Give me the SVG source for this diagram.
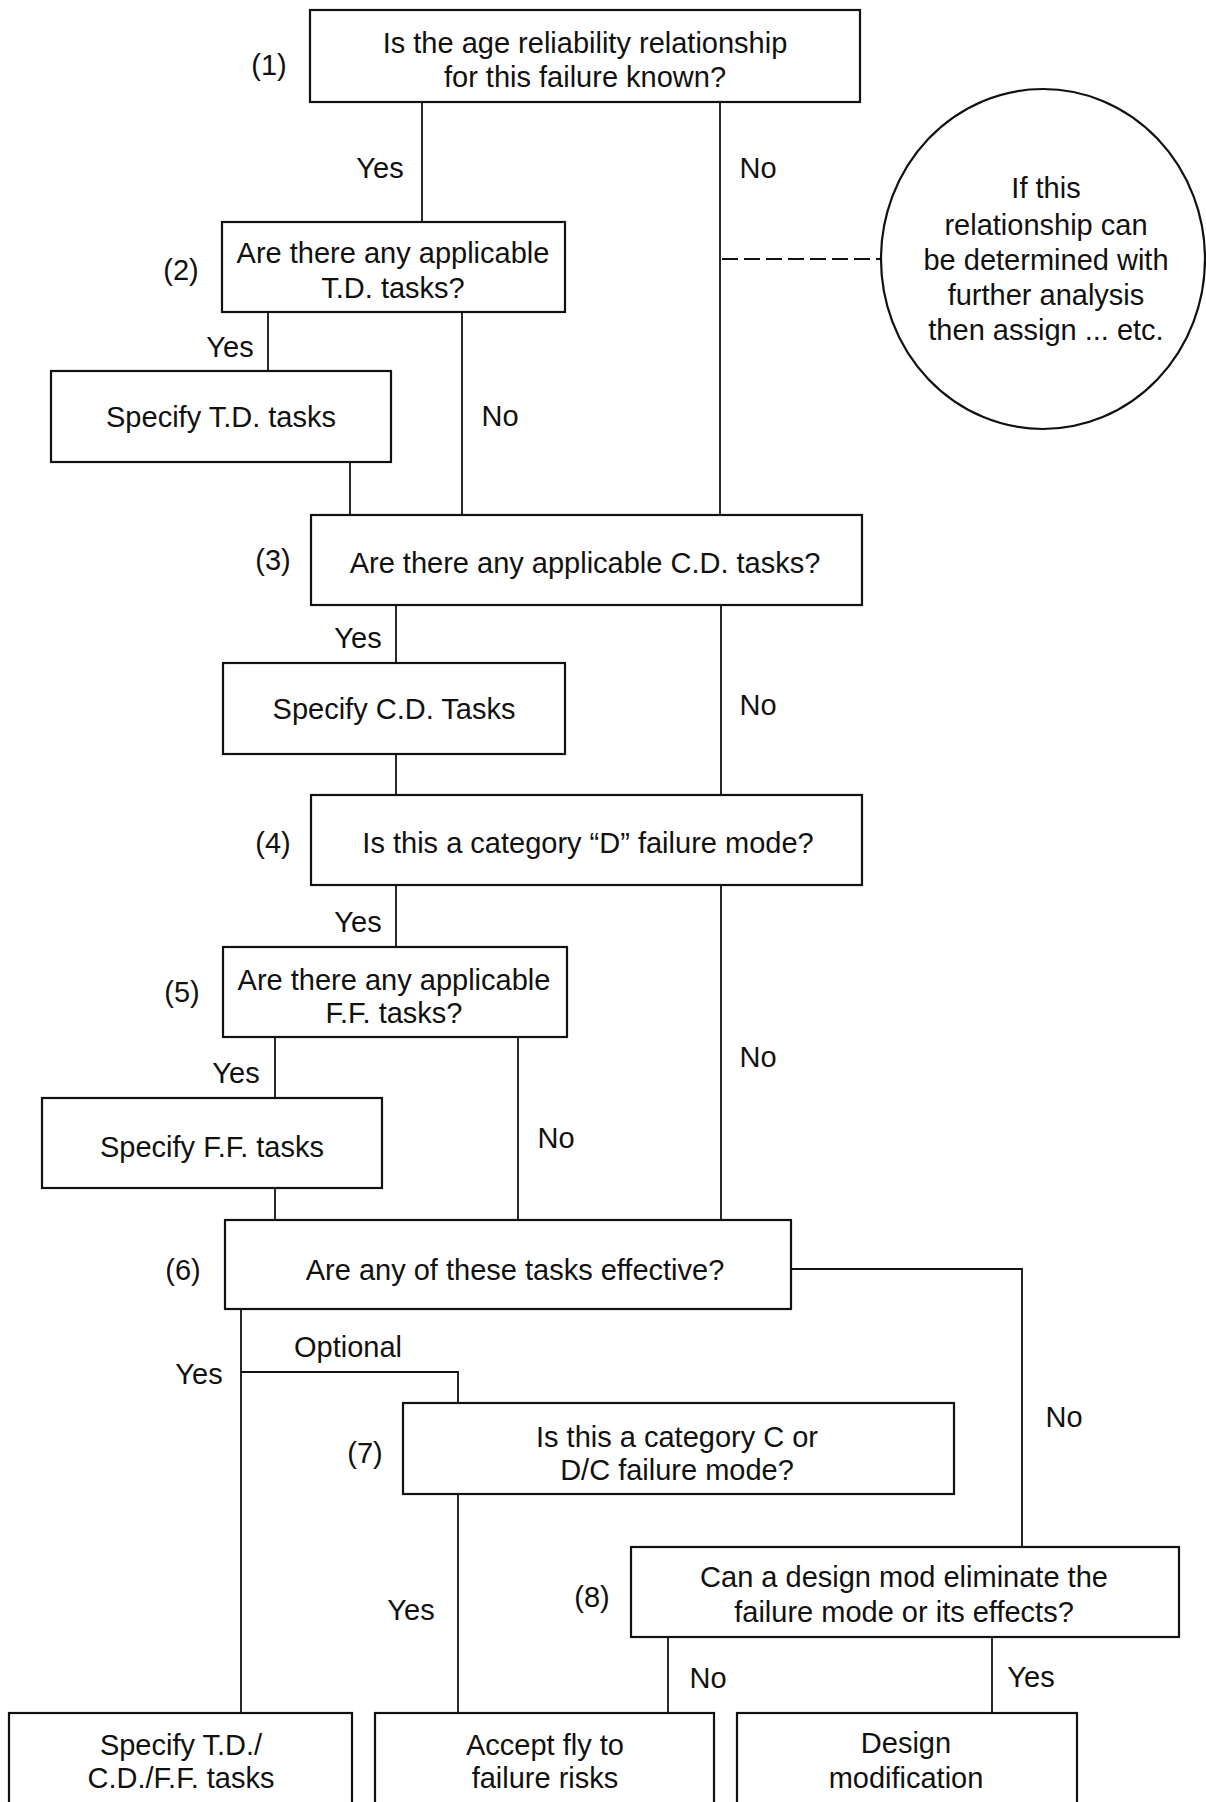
<svg xmlns="http://www.w3.org/2000/svg" width="1206" height="1802" viewBox="0 0 1206 1802">
<style>
  .box { fill: #ffffff; stroke: #111111; stroke-width: 2.2; }
  .ln { fill: none; stroke: #111111; stroke-width: 1.8; }
  .dash { fill: none; stroke: #111111; stroke-width: 2.2; stroke-dasharray: 16 6; }
  text { font-family: "Liberation Sans", Arial, sans-serif; font-size: 29px; fill: #111111; }
  .c { text-anchor: middle; }
</style>
<rect width="1206" height="1802" fill="#ffffff"/>
<g id="connectors">
  <path class="ln" d="M422 102 V222"/>
  <path class="ln" d="M720 102 V515"/>
  <path class="dash" d="M722 259 H880"/>
  <path class="ln" d="M268 312 V371"/>
  <path class="ln" d="M462 312 V515"/>
  <path class="ln" d="M350 462 V515"/>
  <path class="ln" d="M396 605 V663"/>
  <path class="ln" d="M721 605 V795"/>
  <path class="ln" d="M396 754 V795"/>
  <path class="ln" d="M396 885 V947"/>
  <path class="ln" d="M721 885 V1220"/>
  <path class="ln" d="M275 1037 V1098"/>
  <path class="ln" d="M518 1037 V1220"/>
  <path class="ln" d="M275 1188 V1220"/>
  <path class="ln" d="M791 1269 H1022 V1547"/>
  <path class="ln" d="M241 1309 V1713"/>
  <path class="ln" d="M241 1372 H458 V1403"/>
  <path class="ln" d="M458 1494 V1713"/>
  <path class="ln" d="M668 1637 V1713"/>
  <path class="ln" d="M992 1637 V1713"/>
  <text class="c" x="380" y="178">Yes</text>
  <text class="c" x="758" y="178">No</text>
  <text class="c" x="230" y="357">Yes</text>
  <text class="c" x="500" y="426">No</text>
  <text class="c" x="358" y="648">Yes</text>
  <text class="c" x="758" y="715">No</text>
  <text class="c" x="358" y="932">Yes</text>
  <text class="c" x="758" y="1067">No</text>
  <text class="c" x="236" y="1083">Yes</text>
  <text class="c" x="556" y="1148">No</text>
  <text class="c" x="348" y="1357">Optional</text>
  <text class="c" x="199" y="1384">Yes</text>
  <text class="c" x="1064" y="1427">No</text>
  <text class="c" x="411" y="1620">Yes</text>
  <text class="c" x="708" y="1688">No</text>
  <text class="c" x="1031" y="1687">Yes</text>
</g>
<g id="q1">
  <rect class="box" x="310" y="10" width="550" height="92"/>
  <text x="269" y="75" class="c">(1)</text>
  <text class="c" x="585" y="53">Is the age reliability relationship</text>
  <text class="c" x="585" y="87">for this failure known?</text>
</g>
<g id="note">
  <ellipse cx="1043" cy="259" rx="162" ry="170" fill="#ffffff" stroke="#111111" stroke-width="2.2"/>
  <text class="c" x="1046" y="198">If this</text>
  <text class="c" x="1046" y="235">relationship can</text>
  <text class="c" x="1046" y="270">be determined with</text>
  <text class="c" x="1046" y="305">further analysis</text>
  <text class="c" x="1046" y="340">then assign ... etc.</text>
</g>
<g id="q2">
  <rect class="box" x="222" y="222" width="343" height="90"/>
  <text x="181" y="280" class="c">(2)</text>
  <text class="c" x="393" y="263">Are there any applicable</text>
  <text class="c" x="393" y="298">T.D. tasks?</text>
</g>
<g id="td">
  <rect class="box" x="51" y="371" width="340" height="91"/>
  <text class="c" x="221" y="427">Specify T.D. tasks</text>
</g>
<g id="q3">
  <rect class="box" x="311" y="515" width="551" height="90"/>
  <text x="273" y="570" class="c">(3)</text>
  <text class="c" x="585" y="573">Are there any applicable C.D. tasks?</text>
</g>
<g id="cd">
  <rect class="box" x="223" y="663" width="342" height="91"/>
  <text class="c" x="394" y="719">Specify C.D. Tasks</text>
</g>
<g id="q4">
  <rect class="box" x="311" y="795" width="551" height="90"/>
  <text x="273" y="853" class="c">(4)</text>
  <text class="c" x="588" y="853">Is this a category “D” failure mode?</text>
</g>
<g id="q5">
  <rect class="box" x="223" y="947" width="344" height="90"/>
  <text x="182" y="1002" class="c">(5)</text>
  <text class="c" x="394" y="990">Are there any applicable</text>
  <text class="c" x="394" y="1023">F.F. tasks?</text>
</g>
<g id="ff">
  <rect class="box" x="42" y="1098" width="340" height="90"/>
  <text class="c" x="212" y="1157">Specify F.F. tasks</text>
</g>
<g id="q6">
  <rect class="box" x="225" y="1220" width="566" height="89"/>
  <text x="183" y="1280" class="c">(6)</text>
  <text class="c" x="515" y="1280">Are any of these tasks effective?</text>
</g>
<g id="q7">
  <rect class="box" x="403" y="1403" width="551" height="91"/>
  <text x="365" y="1463" class="c">(7)</text>
  <text class="c" x="677" y="1447">Is this a category C or</text>
  <text class="c" x="677" y="1480">D/C failure mode?</text>
</g>
<g id="q8">
  <rect class="box" x="631" y="1547" width="548" height="90"/>
  <text x="592" y="1607" class="c">(8)</text>
  <text class="c" x="904" y="1587">Can a design mod eliminate the</text>
  <text class="c" x="904" y="1622">failure mode or its effects?</text>
</g>
<g id="outA">
  <rect class="box" x="9" y="1713" width="343" height="100"/>
  <text class="c" x="181" y="1755">Specify T.D./</text>
  <text class="c" x="181" y="1788">C.D./F.F. tasks</text>
</g>
<g id="outB">
  <rect class="box" x="375" y="1713" width="339" height="100"/>
  <text class="c" x="545" y="1755">Accept fly to</text>
  <text class="c" x="545" y="1788">failure risks</text>
</g>
<g id="outC">
  <rect class="box" x="737" y="1713" width="340" height="100"/>
  <text class="c" x="906" y="1753">Design</text>
  <text class="c" x="906" y="1788">modification</text>
</g>
</svg>
